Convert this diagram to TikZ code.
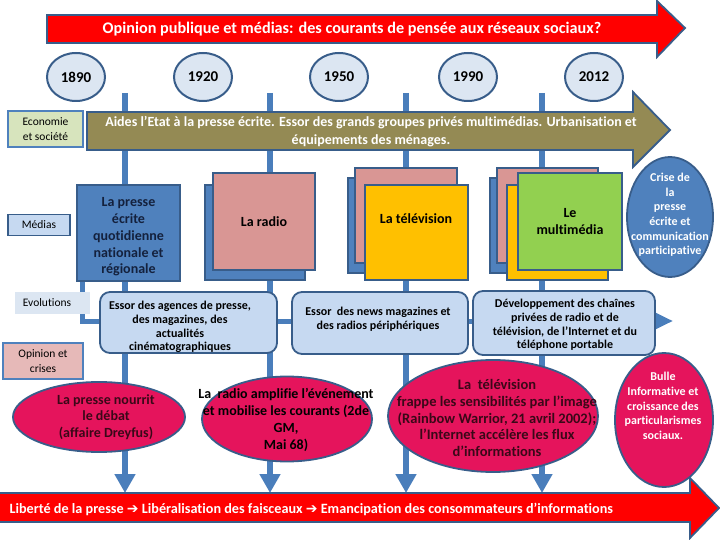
\documentclass[tikz,border=0pt]{standalone}
\usepackage{fontspec}
\setmainfont{Carlito}[Ligatures={NoCommon}]
\newfontfamily\djv{DejaVu Sans}
\usetikzlibrary{arrows.meta,shapes.geometric}
\definecolor{dkblue}{HTML}{385D8A}
\definecolor{lineblue}{HTML}{4A7EBB}
\definecolor{medblue}{HTML}{4F81BD}
\definecolor{ltblue}{HTML}{C6D9F1}
\definecolor{paleblue}{HTML}{DCE6F2}
\definecolor{olive}{HTML}{948A54}
\definecolor{rosy}{HTML}{D99694}
\definecolor{gold}{HTML}{FFC000}
\definecolor{lgreen}{HTML}{92D050}
\definecolor{ecogreen}{HTML}{D7E4BD}
\definecolor{oppink}{HTML}{E6B9B8}
\definecolor{hotpink}{HTML}{E5145C}
\definecolor{maroon}{HTML}{3A0818}
\definecolor{navytxt}{HTML}{14213D}
\begin{document}
\begin{tikzpicture}[x=1pt,y=-1pt,
  conn/.style={draw=lineblue,line width=5.5pt},
  downtip/.style={-{Triangle[width=20pt,length=19pt]}},
  bigarrow/.style={draw=dkblue,line width=1.8pt,line join=miter},
  year/.style={ellipse,draw=dkblue,line width=2pt,fill=paleblue,minimum width=58pt,minimum height=48pt,inner sep=0pt,font=\fontsize{15}{18}\selectfont\bfseries},
  sidelab/.style={rectangle,inner sep=0pt,align=center,font=\fontsize{11.5}{15.5}\selectfont},
  stackbox/.style={rectangle,draw=dkblue,line width=1.8pt,inner sep=0pt},
  medtxt/.style={align=center,font=\fontsize{14}{16.7}\selectfont\bfseries},
  evobox/.style={rectangle,rounded corners=10pt,draw=dkblue,line width=1.8pt,fill=ltblue,inner sep=0pt},
  evotxt/.style={align=center,font=\fontsize{12}{13.8}\selectfont\bfseries},
  opell/.style={ellipse,draw=dkblue,line width=1.8pt,fill=hotpink,inner sep=0pt},
  optxt/.style={align=center,font=\fontsize{14}{16.8}\selectfont\bfseries},
  wtxt/.style={align=center,text=white,font=\fontsize{12}{14.6}\selectfont\bfseries}]
\useasboundingbox (0,0) rectangle (720,540);

% top title arrow
\draw[bigarrow,fill=red] (47,15) -- (657,15) -- (657,1) -- (685,28) -- (657,57) -- (657,43) -- (47,43) -- cycle;
\node[text=white,font=\fontsize{16.2}{18}\selectfont\bfseries] (title) at (352,29) {Opinion publique et médias: des courants de pensée aux réseaux sociaux?};

% years
\node[year] (y1890) at (76,77) {1890};
\node[year] (y1920) at (203,77) {1920};
\node[year] (y1950) at (339,77) {1950};
\node[year] (y1990) at (468,77) {1990};
\node[year] (y2012) at (594,77) {2012};

% vertical timeline connectors
\coordinate (t1) at (125,93);  \coordinate (b1) at (125,493);
\coordinate (t2) at (270,93);  \coordinate (b2) at (270,493);
\coordinate (t3) at (406,93);  \coordinate (b3) at (406,493);
\coordinate (t4) at (542,93);  \coordinate (b4) at (542,493);
\draw[conn,downtip] (t1) -- (b1);
\draw[conn,downtip] (t2) -- (b2);
\draw[conn,downtip] (t3) -- (b3);
\draw[conn,downtip] (t4) -- (b4);

% evolution horizontal connector
\coordinate (ev0) at (82,281);
\coordinate (ev1) at (82,321);
\coordinate (ev2) at (673,321);
\draw[conn,line width=5pt,-{Triangle[width=15pt,length=17pt]}] (ev0) -- (ev1) -- (ev2);

% economy arrow
\draw[bigarrow,fill=olive] (87,112) -- (633,112) -- (633,92) -- (670,130) -- (633,167) -- (633,150) -- (87,150) -- cycle;
\node[text=white,align=center,font=\fontsize{14}{18}\selectfont\bfseries] (eco) at (371,132) {Aides l’Etat à la presse écrite. Essor des grands groupes privés multimédias. Urbanisation et\\équipements des ménages.};

% side labels
\node[sidelab,draw=medblue,line width=1.5pt,fill=ecogreen,minimum width=75pt,minimum height=36pt] (lecon) at (45.5,129) {Economie\\et société};
\node[sidelab,draw=dkblue,line width=1.3pt,fill=ltblue,minimum width=62pt,minimum height=21pt] (lmed) at (39,225) {Médias};
\node[sidelab,fill=paleblue,minimum width=75pt,minimum height=22pt] (levo) at (52.5,303) {};
\node[sidelab] (levot) at (47,303) {Evolutions};
\node[sidelab,draw=medblue,line width=1.5pt,fill=oppink,minimum width=80pt,minimum height=36pt] (lopi) at (43,361) {Opinion et\\crises};

% media stacks
\node[stackbox,fill=medblue,minimum width=103pt,minimum height=96pt] (presse) at (128.5,233) {};
\node[medtxt,text=navytxt] (pressetxt) at (128.5,237) {La presse\\écrite\\quotidienne\\nationale et\\régionale};

\node[stackbox,fill=medblue,minimum width=100pt,minimum height=95pt] (radioB) at (255,232.5) {};
\node[stackbox,fill=rosy,minimum width=102pt,minimum height=97pt,medtxt] (radio) at (264,221.5) {La radio};

\node[stackbox,fill=medblue,minimum width=102pt,minimum height=95pt] (tvB) at (399,225.5) {};
\node[stackbox,fill=rosy,minimum width=102pt,minimum height=95pt] (tvP) at (406,215.5) {};
\node[stackbox,fill=gold,minimum width=103pt,minimum height=95pt] (tv) at (416.5,232.5) {};
\node[medtxt] (tvtxt) at (416,219) {La télévision};

\node[stackbox,fill=medblue,minimum width=102pt,minimum height=95pt] (mmB) at (541,225.5) {};
\node[stackbox,fill=rosy,minimum width=101pt,minimum height=95pt] (mmP) at (547.5,215.5) {};
\node[stackbox,fill=gold,minimum width=101pt,minimum height=95pt] (mmO) at (557.5,232.5) {};
\node[stackbox,fill=lgreen,minimum width=104pt,minimum height=97pt,medtxt] (mm) at (570,221.5) {Le\\multimédia};

% crisis ellipse
\node[ellipse,draw=dkblue,line width=1.8pt,fill=medblue,minimum width=86pt,minimum height=120pt,inner sep=0pt] (crise) at (670,217) {};
\node[wtxt] (crisetxt) at (670,215) {Crise de\\la\\presse\\écrite et\\communication\\participative};

% evolution boxes
\node[evobox,minimum width=177pt,minimum height=61pt] (ev1box) at (188.5,322.5) {};
\node[evotxt] (ev1txt) at (180,327) {Essor des agences de presse,\\des magazines, des\\actualités\\cinématographiques};
\node[evobox,minimum width=176pt,minimum height=62pt] (ev2box) at (380,323) {};
\node[evotxt] (ev2txt) at (378,319) {Essor\ \ des news magazines et\\des radios périphériques};
\node[evobox,minimum width=182pt,minimum height=64pt] (ev3box) at (564,323) {};
\node[evotxt] (ev3txt) at (565,325) {Développement des chaînes\\privées de radio et de\\télévision, de l’Internet et du\\téléphone portable};

% bottom arrow
\draw[bigarrow,fill=red] (-3,493) -- (690,493) -- (690,478) -- (719,508) -- (690,538) -- (690,522) -- (-3,522) -- cycle;
\node[anchor=west,text=white,font=\fontsize{14.2}{16}\selectfont\bfseries] (bottomtxt) at (6,509) {Liberté de la presse {\djv\fontsize{14}{16}\selectfont ➔} Libéralisation des faisceaux {\djv\fontsize{14}{16}\selectfont ➔} Emancipation des consommateurs d’informations};

% opinion ellipses
\node[opell,minimum width=172pt,minimum height=70pt] (op1) at (99,417) {};
\node[optxt,text=maroon] (op1txt) at (106,417) {La presse nourrit\\le débat\\(affaire Dreyfus)};
\node[opell,minimum width=170pt,minimum height=85pt] (op2) at (287,419) {};
\node[optxt] (op2txt) at (286,420) {La\ \ radio amplifie l’événement\\et mobilise les courants (2de\\GM,\\Mai 68)};
\node[opell,minimum width=210pt,minimum height=112pt] (op3) at (493,416) {};
\node[optxt,text=maroon,font=\fontsize{14.5}{16.8}\selectfont\bfseries] (op3txt) at (497,418) {La\ \ télévision\\frappe les sensibilités par l’image\\(Rainbow Warrior, 21 avril 2002);\\l’Internet accélère les flux\\d’informations};
\node[opell,minimum width=98pt,minimum height=134pt] (op4) at (664,420) {};
\node[wtxt] (op4txt) at (663,406) {Bulle\\Informative et\\croissance des\\particularismes\\sociaux.};
\end{tikzpicture}
\end{document}
